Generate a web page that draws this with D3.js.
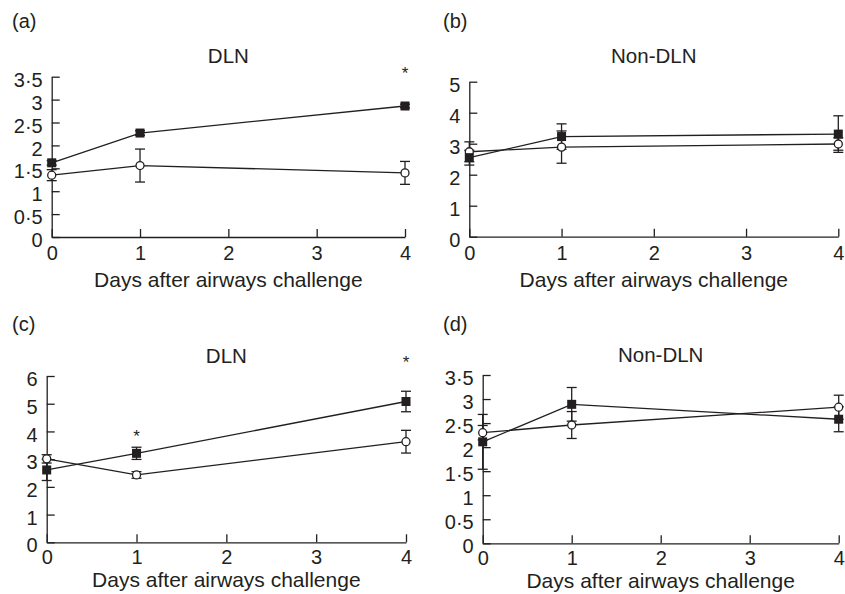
<!DOCTYPE html>
<html>
<head>
<meta charset="utf-8">
<script src="https://cdn.jsdelivr.net/npm/d3@7"></script>
<style>
  body { margin: 0; background: #fff; }
  svg text { font-family: "Liberation Sans", Arial, sans-serif; fill: #231f20; }
</style>
</head>
<body>
<svg id="chart" width="845" height="594"></svg>
<script>
// ---- data ----
var days = [0, 1, 4];
var xTicks = [0, 1, 2, 3, 4];

var aFilled = [1.62, 2.27, 2.86];
var aFilledErr = [0.05, 0.05, 0.04];
var aOpen = [1.35, 1.56, 1.40];
var aOpenErr = [0.12, 0.36, 0.25];

var bFilled = [2.55, 3.23, 3.31];
var bFilledErr = [0.24, 0.41, 0.59];
var bOpen = [2.74, 2.89, 2.99];
var bOpenErr = [0.32, 0.52, 0.2];

var cFilled = [2.61, 3.21, 5.08];
var cFilledErr = [0.38, 0.22, 0.37];
var cOpen = [3.01, 2.43, 3.63];
var cOpenErr = [0.15, 0.12, 0.41];

var dFilled = [2.11, 2.89, 2.58];
var dFilledErr = [0.57, 0.35, 0.26];
var dOpen = [2.30, 2.46, 2.83];
var dOpenErr = [0.15, 0.28, 0.25];

var aStarDays = [4], aStarVals = [3.6];
var cStarDays = [1, 4], cStarVals = [3.87, 6.55];

var yTicksHalf = [0, 0.5, 1, 1.5, 2, 2.5, 3, 3.5];
var yTicks5 = [0, 1, 2, 3, 4, 5];
var yTicks6 = [0, 1, 2, 3, 4, 5, 6];

var svg = d3.select("#chart");
var ink = "#231f20";
var font = "'Liberation Sans', Arial, sans-serif";

var fmt = function(d) { return String(d).replace(".", "\u00b7"); };

function panel(o) {
  var x = d3.scaleLinear().domain([0, 4]).range([o.x0, o.x1]);
  var y = d3.scaleLinear().domain([0, o.ymax]).range([o.y0, o.y1]);
  var g = svg.append("g");

  // panel letter + title
  g.append("text").attr("x", o.lx).attr("y", o.ly).attr("font-size", 20).text(o.letter);
  g.append("text").attr("x", (o.x0 + o.x1) / 2).attr("y", o.ty)
    .attr("text-anchor", "middle").attr("font-size", 20.5).text(o.title);

  // y axis, ticks inward
  var ya = g.append("g").attr("transform", "translate(" + o.x0 + ",0)")
    .call(d3.axisRight(y).tickValues(o.yTicks).tickFormat(fmt).tickSize(8).tickSizeOuter(0));
  ya.select(".domain").attr("stroke", ink).attr("stroke-width", 1.3);
  ya.selectAll(".tick line").attr("stroke", ink).attr("stroke-width", 1.3);
  ya.selectAll(".tick text").attr("x", -9).attr("text-anchor", "end")
    .attr("font-size", 20).attr("fill", ink).attr("dy", "0.48em")
    .attr("font-family", font);

  // x axis, ticks inward (upwards)
  var xa = g.append("g").attr("transform", "translate(0," + o.y0 + ")")
    .call(d3.axisTop(x).tickValues(xTicks).tickFormat(d3.format("d")).tickSize(8).tickSizeOuter(0));
  xa.select(".domain").attr("stroke", ink).attr("stroke-width", 1.3);
  xa.selectAll(".tick line").attr("stroke", ink).attr("stroke-width", 1.3);
  xa.selectAll(".tick text").attr("y", o.xly).attr("dy", 0)
    .attr("font-size", 20).attr("fill", ink)
    .attr("font-family", font);

  g.append("text").attr("x", (o.x0 + o.x1) / 2).attr("y", o.xlaby)
    .attr("text-anchor", "middle").attr("font-size", 21).text("Days after airways challenge");

  var line = d3.line().x(function(d) { return x(d[0]); }).y(function(d) { return y(d[1]); });

  [[o.open, o.openErr], [o.filled, o.filledErr]].forEach(function(s) {
    var pts = days.map(function(d, i) { return [d, s[0][i], s[1][i]]; });
    g.append("path").datum(pts).attr("d", line)
      .attr("fill", "none").attr("stroke", ink).attr("stroke-width", 1.3);
    var eb = g.selectAll(null).data(pts).enter().append("g");
    eb.append("line")
      .attr("x1", function(d) { return x(d[0]); }).attr("x2", function(d) { return x(d[0]); })
      .attr("y1", function(d) { return y(d[1] - d[2]); }).attr("y2", function(d) { return y(d[1] + d[2]); })
      .attr("stroke", ink).attr("stroke-width", 1.3);
    [-1, 1].forEach(function(sgn) {
      eb.append("line")
        .attr("x1", function(d) { return x(d[0]) - 5; }).attr("x2", function(d) { return x(d[0]) + 5; })
        .attr("y1", function(d) { return y(d[1] + sgn * d[2]); }).attr("y2", function(d) { return y(d[1] + sgn * d[2]); })
        .attr("stroke", ink).attr("stroke-width", 1.3);
    });
  });

  // markers: open circles, filled squares
  days.forEach(function(d, i) {
    g.append("circle").attr("cx", x(d)).attr("cy", y(o.open[i])).attr("r", 4)
      .attr("fill", "#fff").attr("stroke", ink).attr("stroke-width", 1.3);
  });
  days.forEach(function(d, i) {
    g.append("rect").attr("x", x(d) - 4.5).attr("y", y(o.filled[i]) - 4.5)
      .attr("width", 9).attr("height", 9).attr("fill", ink);
  });

  // significance stars
  (o.starDays || []).forEach(function(d, i) {
    g.append("text").attr("x", x(d)).attr("y", y(o.starVals[i]) + 7)
      .attr("text-anchor", "middle").attr("font-size", 17).text("*");
  });
}

panel({ letter: "(a)", title: "DLN", lx: 12, ly: 28, ty: 63,
  x0: 51.7, x1: 405, y0: 237, y1: 76.7, ymax: 3.5, yTicks: yTicksHalf,
  xly: 23, xlaby: 287,
  filled: aFilled, filledErr: aFilledErr, open: aOpen, openErr: aOpenErr,
  starDays: aStarDays, starVals: aStarVals });

panel({ letter: "(b)", title: "Non-DLN", lx: 443, ly: 28, ty: 63,
  x0: 469.3, x1: 838.3, y0: 236.7, y1: 81.7, ymax: 5, yTicks: yTicks5,
  xly: 23, xlaby: 287,
  filled: bFilled, filledErr: bFilledErr, open: bOpen, openErr: bOpenErr });

panel({ letter: "(c)", title: "DLN", lx: 12, ly: 331, ty: 363,
  x0: 46.7, x1: 406, y0: 542.3, y1: 376, ymax: 6, yTicks: yTicks6,
  xly: 22, xlaby: 587,
  filled: cFilled, filledErr: cFilledErr, open: cOpen, openErr: cOpenErr,
  starDays: cStarDays, starVals: cStarVals });

panel({ letter: "(d)", title: "Non-DLN", lx: 443, ly: 331, ty: 362,
  x0: 482.7, x1: 838.7, y0: 543.3, y1: 375, ymax: 3.5, yTicks: yTicksHalf,
  xly: 22, xlaby: 588,
  filled: dFilled, filledErr: dFilledErr, open: dOpen, openErr: dOpenErr });
</script>
</body>
</html>
